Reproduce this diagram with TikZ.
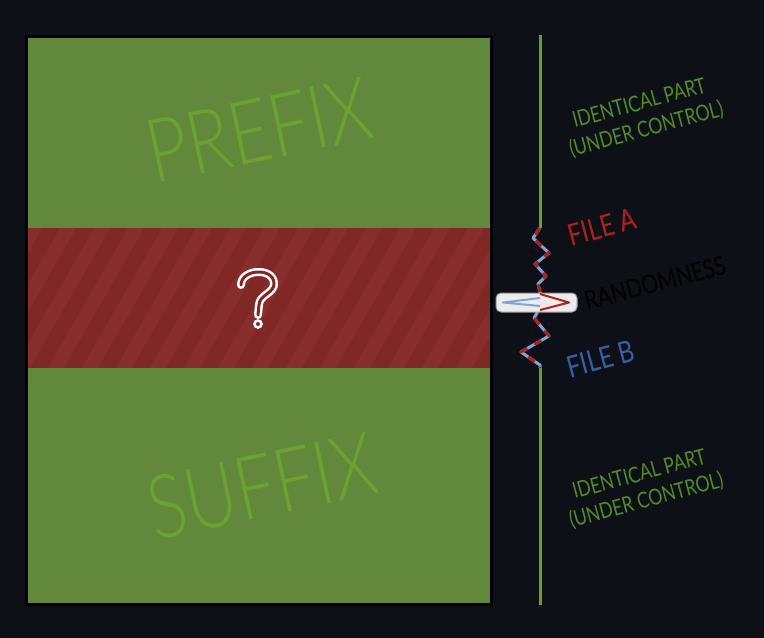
\documentclass[tikz,border=0pt]{standalone}
\usepackage{fontspec}
\usetikzlibrary{positioning}
\newfontfamily\handfont{Lato}[FakeStretch=0.8]
\newfontfamily\bighandfont{Lato}[UprightFont={* Light},FakeStretch=0.8]
\definecolor{bgdark}{RGB}{13,17,23}
\definecolor{blockgreen}{RGB}{98,137,59}
\definecolor{textgreen}{RGB}{106,163,48}
\definecolor{linegreen}{RGB}{100,160,45}
\definecolor{labelgreen}{RGB}{82,140,36}
\definecolor{bandred}{RGB}{128,40,38}
\definecolor{stripered}{RGB}{135,45,43}
\definecolor{fileared}{RGB}{175,32,32}
\definecolor{filebblue}{RGB}{55,95,165}
\definecolor{wiggleblue}{RGB}{130,165,215}

\tikzset{
  sidelabel/.style={font=\handfont\fontsize{#1}{27}\selectfont, rotate=15, inner sep=0pt, align=center},
  sidelabel/.default=22,
  bigword/.style={font=\bighandfont\fontsize{88}{88}\selectfont, text=textgreen, rotate=12, inner sep=0pt},
}

\begin{document}
\begin{tikzpicture}[x=1pt, y=-1pt]

		% Background
		\fill[bgdark] (0,0) rectangle (764,638);
		\useasboundingbox (0,0) rectangle (764,638);

		% Draw file block
		\fill[blockgreen] (25,35) rectangle (493,606);
		\fill[bandred] (25,228) rectangle (493,368);
		\begin{scope}
			\clip (27,228.5) rectangle (491,367.5);
			\foreach \x in {-120,-86,...,520}
			\draw[stripered, line width=14pt] (\x,378) -- ++(92,-160);
		\end{scope}
		\draw[black, line width=3pt] (26.5,36.5) rectangle (491.5,604.5);

		% Big words
		\node[bigword] (prefix) at (259,130) {PREFIX};
		\node[bigword] (suffix) at (262,486) {SUFFIX};

		% Question mark
		\draw[white, line width=8pt, line cap=round] (241,285) .. controls (241,269) and (273,267) .. (274,283) .. controls (275,293) and (259,295) .. (259,305) -- (258,315);
		\draw[bandred, line width=3pt, line cap=round] (241,285) .. controls (241,269) and (273,267) .. (274,283) .. controls (275,293) and (259,295) .. (259,305) -- (258,315);
		\filldraw[fill=bandred, draw=white, line width=2.5pt] (258,324) circle (3.5pt);

		% Side line
		\draw[linegreen, line width=3pt] (540,35) -- (540,228);
		\draw[linegreen, line width=3pt] (540,368) -- (540,605);

		% Randomness wiggle
		\draw[wiggleblue, line width=3pt, line join=round] (540,228) -- (533,238) -- (549,253) -- (535,264) -- (546,276) -- (538,284) -- (541,296);
		\draw[fileared, line width=3pt, line join=round, dash pattern=on 8pt off 8pt] (540,228) -- (533,238) -- (549,253) -- (535,264) -- (546,276) -- (538,284) -- (541,296);
		\draw[wiggleblue, line width=3pt, line join=round] (540,308) -- (534,318) -- (549,336) -- (521,352) -- (540,365) -- (540,368);
		\draw[fileared, line width=3pt, line join=round, dash pattern=on 8pt off 8pt, dash phase=4pt] (540,308) -- (534,318) -- (549,336) -- (521,352) -- (540,365) -- (540,368);

		% Pill with spike
		\draw[fill={rgb,255:red,236;green,236;blue,236}, draw={rgb,255:red,150;green,150;blue,150}, line width=1pt, rounded corners=5pt] (496,293) rectangle (577,312);
		\draw[wiggleblue, line width=2pt, line join=round] (540,298) -- (503,302.5) -- (540,306);
		\draw[fileared, line width=2pt, line join=round] (540,294) -- (569,302.5) -- (540,310);

		% Labels
		\node[sidelabel, text=labelgreen] (toppart) at (643,117) {IDENTICAL PART\\(UNDER CONTROL)};
		\node[sidelabel, text=labelgreen] (bottompart) at (643,488) {IDENTICAL PART\\(UNDER CONTROL)};
		\node[sidelabel=30, text=fileared] (filea) at (602,227) {FILE A};
		\node[sidelabel=26, text=black] (random) at (655,283) {RANDOMNESS};
		\node[sidelabel=30, text=filebblue] (fileb) at (601,359) {FILE B};

\end{tikzpicture}
\end{document}
